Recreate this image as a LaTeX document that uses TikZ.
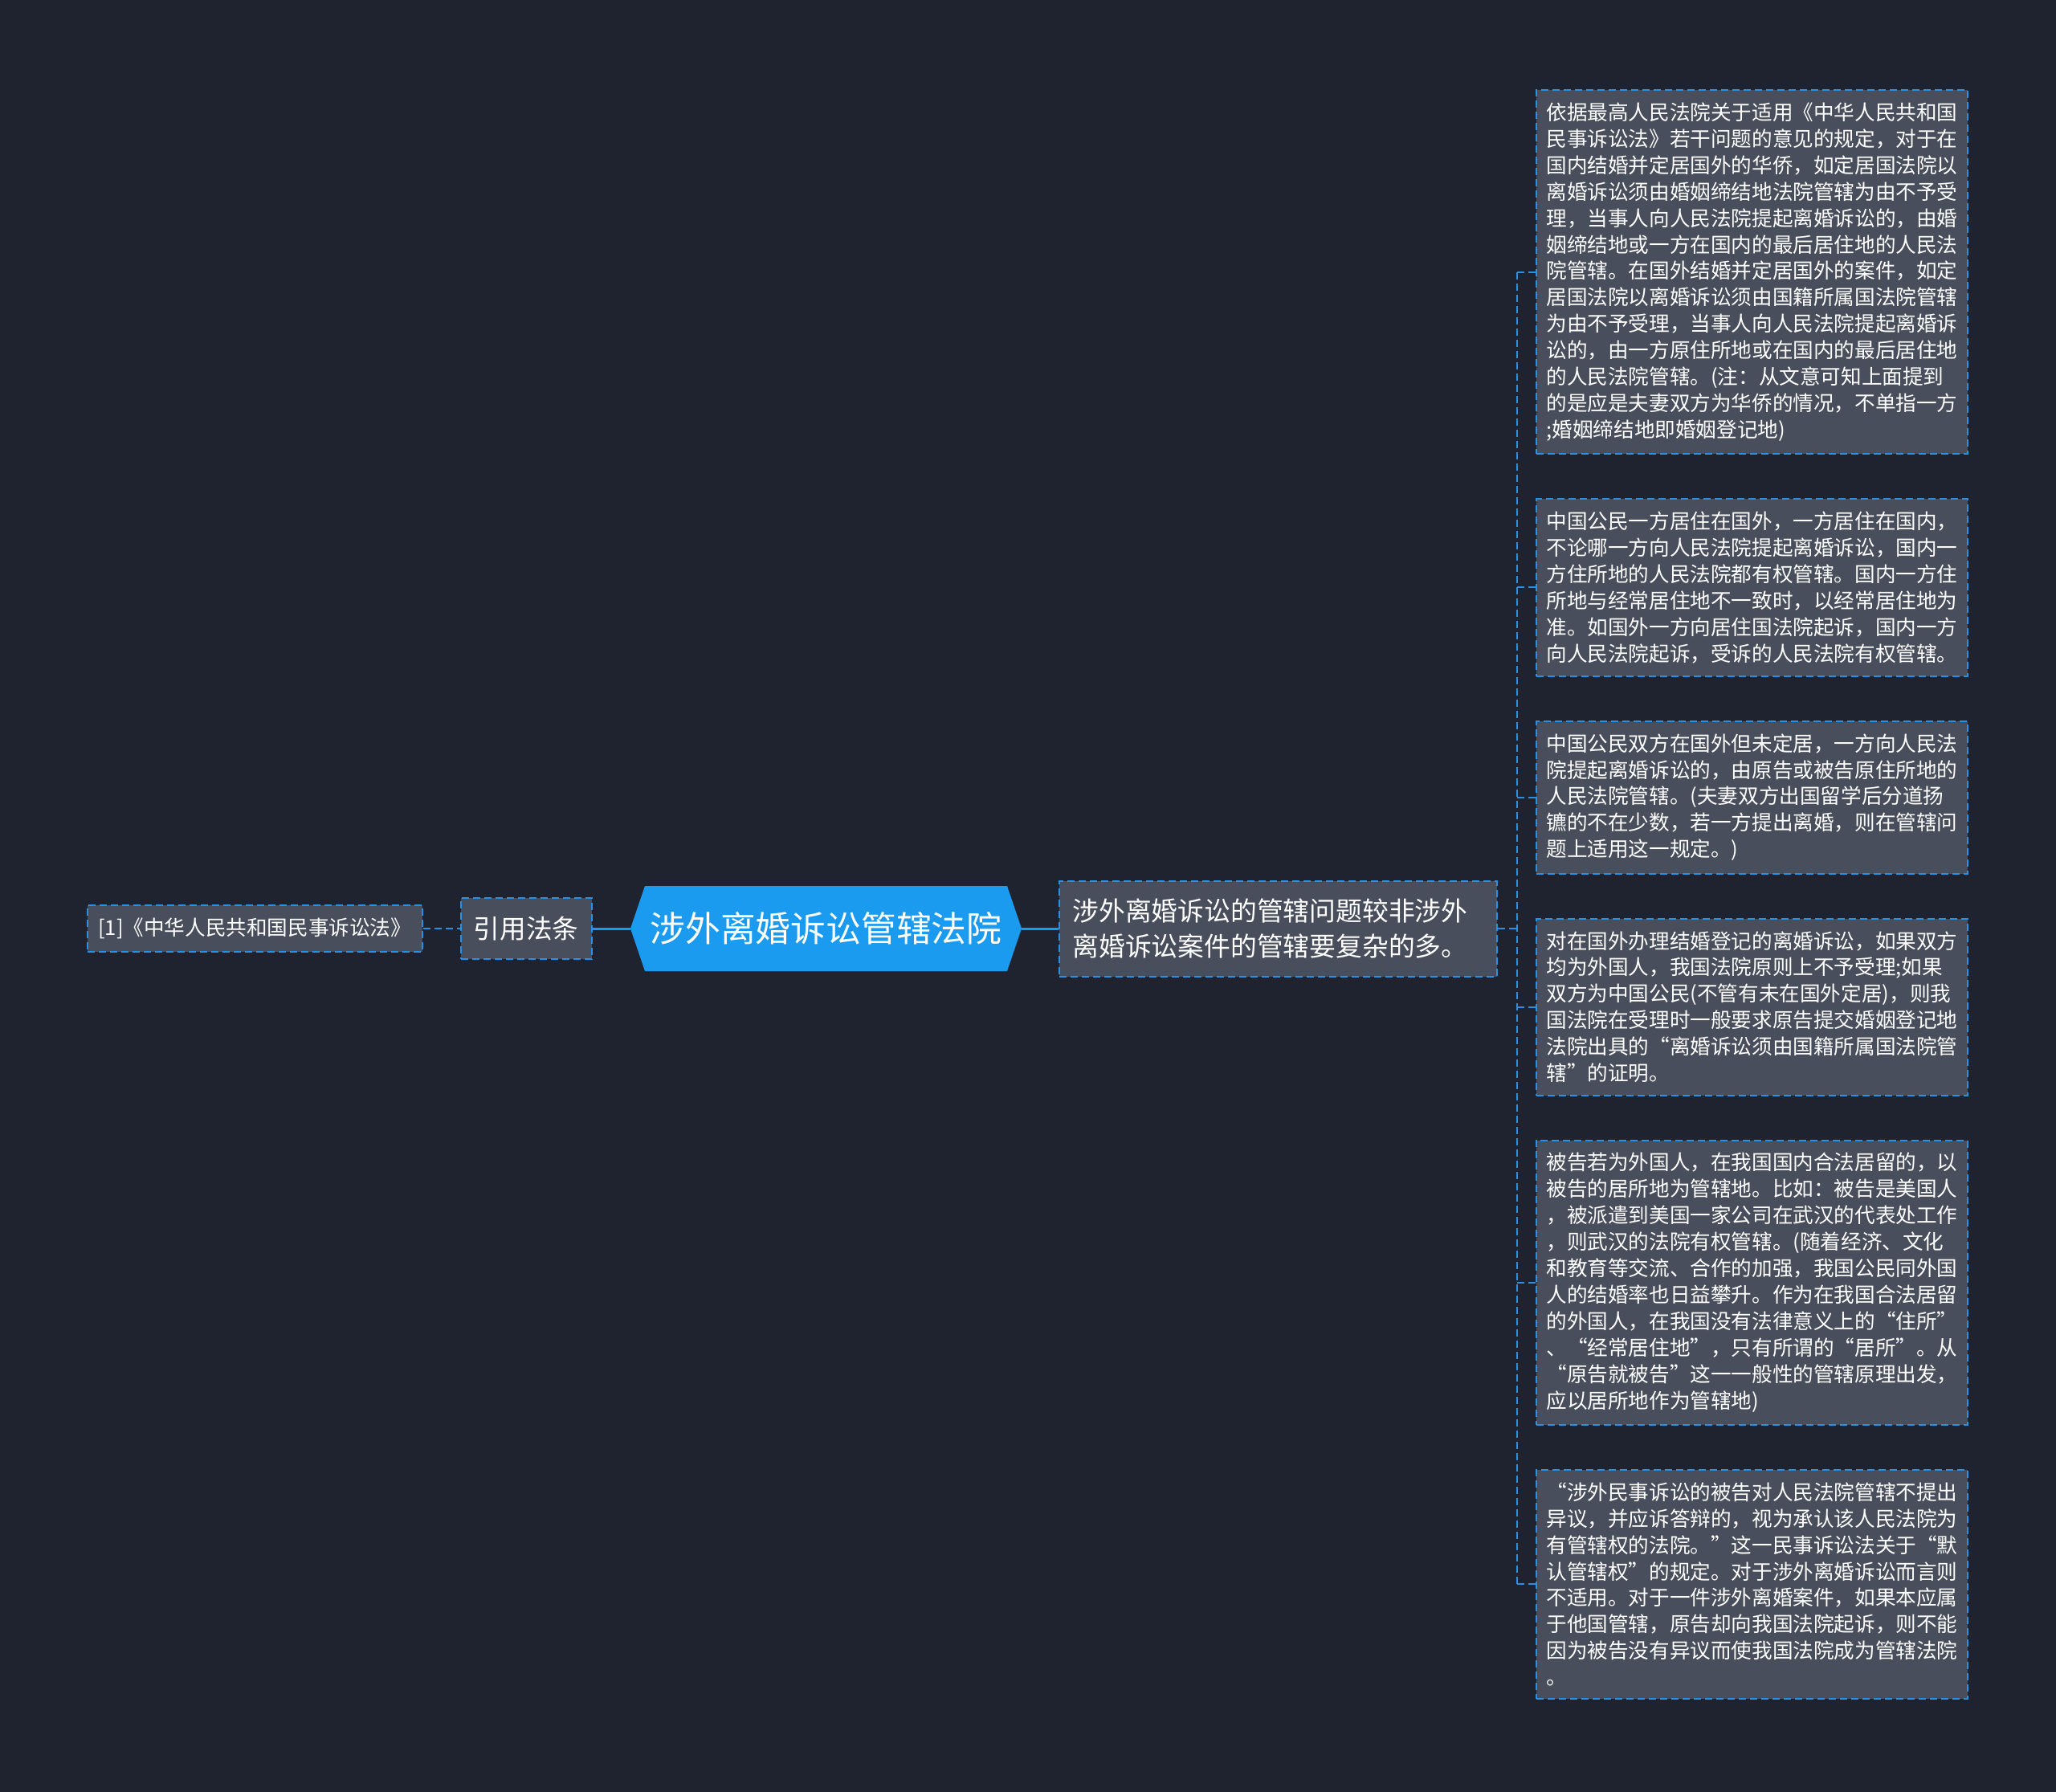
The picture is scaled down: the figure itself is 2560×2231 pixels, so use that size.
\documentclass[tikz,border=0pt]{standalone}
\usepackage{fontspec}
\setmainfont{Noto Sans CJK SC}
\usepackage{tikz}
\usetikzlibrary{positioning}
\definecolor{bgnavy}{RGB}{31,35,48}
\definecolor{boxgray}{RGB}{72,78,92}
\definecolor{edgeblue}{RGB}{40,145,228}
\definecolor{hubblue}{RGB}{26,155,240}
\tikzset{
  detail/.style={rectangle, draw=edgeblue, fill=boxgray, line width=1pt,
    dash pattern=on 4.5pt off 2.5pt, text=white, align=left,
    font=\fontsize{12.8pt}{16.45pt}\selectfont,
    minimum width=268.5pt, inner xsep=6.25pt, inner ysep=7.9pt},
  topic/.style={detail, font=\fontsize{16.4pt}{22pt}\selectfont,
    text width=256.5pt, minimum height=59.5pt, inner xsep=8pt, inner ysep=0pt},
  citebox/.style={detail, font=\fontsize{16.3pt}{20pt}\selectfont,
    minimum width=81.5pt, minimum height=38pt, inner sep=0pt},
  refbox/.style={detail, minimum width=208.5pt, minimum height=29pt, inner sep=0pt},
  hub/.style={rectangle, fill=bgnavy, minimum width=243.5pt, minimum height=53pt,
    inner sep=0pt, text=white, font=\fontsize{21.9pt}{26pt}\selectfont,
    path picture={\fill[hubblue] (path picture bounding box.west)
      -- ([xshift=9pt]path picture bounding box.north west)
      -- ([xshift=-9pt]path picture bounding box.north east)
      -- (path picture bounding box.east)
      -- ([xshift=-9pt]path picture bounding box.south east)
      -- ([xshift=9pt]path picture bounding box.south west) -- cycle;}},
  trunk/.style={draw=hubblue, line width=1.5pt},
  branch/.style={draw=edgeblue, line width=1pt, dash pattern=on 4.5pt off 2.5pt}
}

\begin{document}
\begin{tikzpicture}[x=0.5pt, y=-0.5pt]
\useasboundingbox[fill=bgnavy] (0,0) rectangle (2560,2231);

\node (hub)  [hub] at (1028.5,1156)          {涉外离婚诉讼管辖法院};
\node (cite) [citebox, left=23.5pt of hub]  {引用法条};
\node (law)  [refbox,  left=23pt of cite]   {[1]《中华人民共和国民事诉讼法》};
\node (desc) [topic,   right=23pt of hub]   {涉外离婚诉讼的管辖问题较非涉外\\离婚诉讼案件的管辖要复杂的多。};

\node (box1) [detail, anchor=north west] at (1912,111) {依据最高人民法院关于适用《中华人民共和国\\民事诉讼法》若干问题的意见的规定，对于在\\国内结婚并定居国外的华侨，如定居国法院以\\离婚诉讼须由婚姻缔结地法院管辖为由不予受\\理，当事人向人民法院提起离婚诉讼的，由婚\\姻缔结地或一方在国内的最后居住地的人民法\\院管辖。在国外结婚并定居国外的案件，如定\\居国法院以离婚诉讼须由国籍所属国法院管辖\\为由不予受理，当事人向人民法院提起离婚诉\\讼的，由一方原住所地或在国内的最后居住地\\的人民法院管辖。(注：从文意可知上面提到\\的是应是夫妻双方为华侨的情况，不单指一方\\;婚姻缔结地即婚姻登记地)};
\node (box2) [detail, below=27pt of box1] {中国公民一方居住在国外，一方居住在国内，\\不论哪一方向人民法院提起离婚诉讼，国内一\\方住所地的人民法院都有权管辖。国内一方住\\所地与经常居住地不一致时，以经常居住地为\\准。如国外一方向居住国法院起诉，国内一方\\向人民法院起诉，受诉的人民法院有权管辖。};
\node (box3) [detail, below=27pt of box2] {中国公民双方在国外但未定居，一方向人民法\\院提起离婚诉讼的，由原告或被告原住所地的\\人民法院管辖。(夫妻双方出国留学后分道扬\\镳的不在少数，若一方提出离婚，则在管辖问\\题上适用这一规定。)};
\node (box4) [detail, below=27pt of box3] {对在国外办理结婚登记的离婚诉讼，如果双方\\均为外国人，我国法院原则上不予受理;如果\\双方为中国公民(不管有未在国外定居)，则我\\国法院在受理时一般要求原告提交婚姻登记地\\法院出具的“离婚诉讼须由国籍所属国法院管\\辖”的证明。};
\node (box5) [detail, below=27pt of box4] {被告若为外国人，在我国国内合法居留的，以\\被告的居所地为管辖地。比如：被告是美国人\\，被派遣到美国一家公司在武汉的代表处工作\\，则武汉的法院有权管辖。(随着经济、文化\\和教育等交流、合作的加强，我国公民同外国\\人的结婚率也日益攀升。作为在我国合法居留\\的外国人，在我国没有法律意义上的“住所”\\、“经常居住地”，只有所谓的“居所”。从\\“原告就被告”这一一般性的管辖原理出发，\\应以居所地作为管辖地)};
\node (box6) [detail, below=27pt of box5] {“涉外民事诉讼的被告对人民法院管辖不提出\\异议，并应诉答辩的，视为承认该人民法院为\\有管辖权的法院。”这一民事诉讼法关于“默\\认管辖权”的规定。对于涉外离婚诉讼而言则\\不适用。对于一件涉外离婚案件，如果本应属\\于他国管辖，原告却向我国法院起诉，则不能\\因为被告没有异议而使我国法院成为管辖法院\\。};

\coordinate (fork) at ([xshift=12pt]desc.east);

\draw [branch] (law)  -- (cite);
\draw [trunk]  (cite) -- (hub);
\draw [trunk]  (hub)  -- (desc);
\draw [branch] (desc) -- (fork);
\draw [branch] (fork |- box1.west) -- (fork |- box6.west);
\foreach \n in {1,...,6}
  \draw [branch] (fork |- box\n.west) -- (box\n.west);
\end{tikzpicture}
\end{document}
